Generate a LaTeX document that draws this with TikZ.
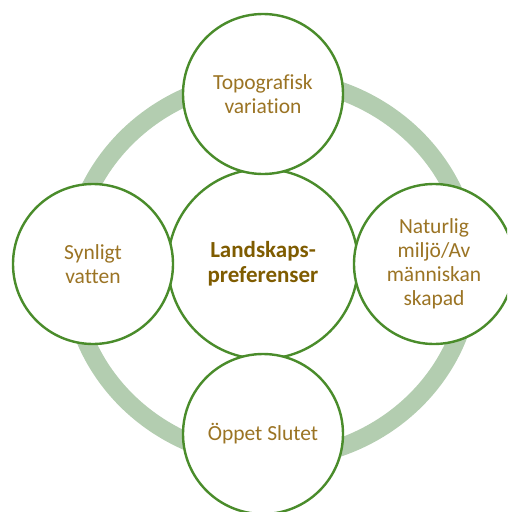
\documentclass[tikz,border=0pt]{standalone}
\usepackage{fontspec}
\setmainfont{Carlito}[Ligatures=NoCommon]
\usepackage{xcolor}
\definecolor{ringgreen}{HTML}{B3CDB0}
\definecolor{edgegreen}{HTML}{4A8C2B}
\definecolor{labelgold}{HTML}{9B7424}
\definecolor{hubgold}{HTML}{7F5C00}

\begin{document}
\begin{tikzpicture}[x=1pt,y=-1pt,
    petal/.style={circle,draw=edgegreen,fill=white,line width=2.4pt,inner sep=0pt,
      minimum size=160pt,align=center,text=labelgold,font=\fontsize{21.5}{24}\selectfont},
    hub/.style={petal,minimum size=190pt,text=hubgold,font=\fontsize{23}{25}\selectfont\bfseries}]
            \useasboundingbox (0,0) rectangle (507,512);
            \clip (0,0) rectangle (507,512);

            % ring behind the circles
            \draw[ringgreen,line width=18pt] (271,269) ellipse [x radius=200,y radius=190];

            \node (hub) at (263,264) [hub] {Landskaps-\\preferenser};
            \node (top) at (263,94) [petal] {Topografisk\\variation};
            \node (left) at (93,264) [petal] {Synligt\\vatten};
            \node (right) at (434,264) [petal] {Naturlig\\miljö/Av\\människan\\skapad};
            \node (bottom) at (263,434) [petal] {Öppet Slutet};

        \end{tikzpicture}
\end{document}
